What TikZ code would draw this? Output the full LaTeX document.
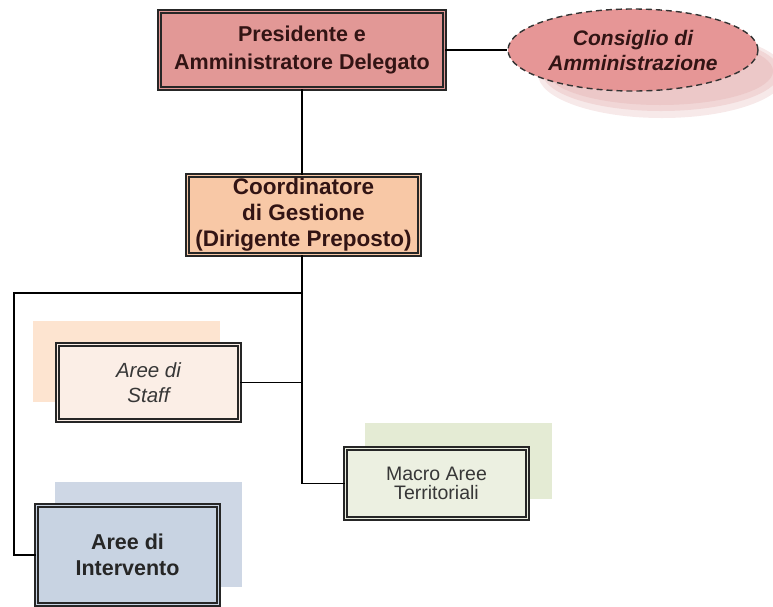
\documentclass[tikz,border=0pt]{standalone}
\usepackage{fontspec}
\setmainfont{Liberation Sans}
\usetikzlibrary{shapes.geometric,calc}
\definecolor{presfill}{RGB}{226,152,150}
\definecolor{consfill}{RGB}{230,150,150}
\definecolor{consshadow}{RGB}{236,200,200}
\definecolor{coordfill}{RGB}{248,200,166}
\definecolor{staffill}{RGB}{251,238,230}
\definecolor{staffshadow}{RGB}{253,228,208}
\definecolor{macrofill}{RGB}{236,240,225}
\definecolor{macroshadow}{RGB}{228,235,212}
\definecolor{intfill}{RGB}{200,211,226}
\definecolor{intshadow}{RGB}{206,215,229}
\definecolor{darktext}{RGB}{50,20,20}
\definecolor{graytext}{RGB}{55,55,55}
\tikzset{
  dbox/.style={draw=black!85, line width=1.3pt, double distance=1.8pt, inner sep=0pt, align=center},
  conn/.style={draw=black, line width=1.4pt},
  shadowbox/.style={inner sep=0pt, draw=none},
}
\begin{document}
\begin{tikzpicture}[x=1pt,y=-1pt]
\useasboundingbox (0,0) rectangle (773,606);
% shadows
\fill[consshadow!40] (662,74) ellipse [x radius=124, y radius=44];
\fill[consshadow!75] (661,72) ellipse [x radius=119, y radius=39];
\fill[consshadow] (660,71) ellipse [x radius=113, y radius=34];
\node[shadowbox, fill=staffshadow, minimum width=187pt, minimum height=81pt] (stafsh) at (126.5,361) {};
\node[shadowbox, fill=macroshadow, minimum width=187pt, minimum height=76pt] (macsh) at (458.5,461) {};
\node[shadowbox, fill=intshadow, minimum width=187pt, minimum height=105pt] (intsh) at (148.5,534.5) {};
% nodes
\node[dbox, double=presfill, fill=presfill, minimum width=285pt, minimum height=77pt,
      text=darktext, font=\fontsize{21.5}{28.5}\selectfont\bfseries] (pres) at (302,50)
      {Presidente e\\Amministratore Delegato};
\node[ellipse, draw=black!80, dashed, dash pattern=on 6pt off 4pt, line width=1.4pt,
      fill=consfill, minimum width=250pt, minimum height=82pt, inner sep=0pt, align=center,
      text=darktext, font=\fontsize{21}{25}\selectfont\bfseries\itshape] (cons) at (633,50)
      {Consiglio di\\Amministrazione};
\node[dbox, double=coordfill, fill=coordfill, minimum width=232pt, minimum height=79pt,
      text=darktext, font=\fontsize{22.5}{26}\selectfont\bfseries] (coord) at (303.5,215)
      {Coordinatore\\di Gestione\\(Dirigente Preposto)};
\node[dbox, double=staffill, fill=staffill, minimum width=182pt, minimum height=76pt,
      text=graytext, font=\fontsize{20.5}{25.5}\selectfont\itshape] (staff) at (148.5,382.5)
      {Aree di\\Staff};
\node[dbox, double=macrofill, fill=macrofill, minimum width=182pt, minimum height=70pt,
      text=graytext, font=\fontsize{19.5}{19}\selectfont] (macro) at (436.5,483.5)
      {Macro Aree\\Territoriali};
\node[dbox, double=intfill, fill=intfill, minimum width=182pt, minimum height=99pt,
      text=black!85, font=\fontsize{21.5}{26}\selectfont\bfseries] (interv) at (127.5,555)
      {Aree di\\Intervento};
% connectors
\coordinate (j) at (303,293);
\coordinate (l) at (14,293);
\draw[conn] (pres.east) -- (cons.west);
\draw[conn] (pres.south) -- (pres.south |- coord.north);
\draw[conn] (coord.south -| pres.south) |- (macro.west);
\draw[conn] (j) -- (l) |- (interv.west);
\draw[conn] (staff.east) -- (staff.east -| j);
\end{tikzpicture}
\end{document}
